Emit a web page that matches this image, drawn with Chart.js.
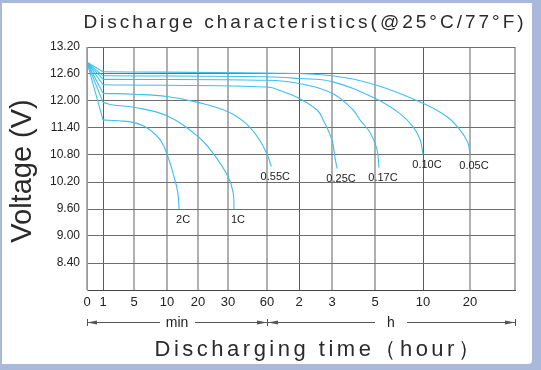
<!DOCTYPE html>
<html>
<head>
<meta charset="utf-8">
<script src="https://cdn.jsdelivr.net/npm/chart.js@4/dist/chart.umd.min.js"></script>
<style>
    body { margin: 0; background: #a9b9dc; width: 541px; height: 370px; overflow: hidden; position: relative; }
    #panel { position: absolute; left: 2px; top: 3px; width: 530px; height: 361px; background: #fff; border-bottom-right-radius: 4px; }
    #chart { position: absolute; left: 0; top: 0; }
</style>
</head>
<body>
<div id="panel"></div>
<canvas id="chart" width="541" height="370"></canvas>
<script>
// X axis: discharge time in minutes, printed grid is not uniform
const X_TICKS = [0, 1, 5, 10, 20, 30, 60, 120, 180, 300, 600, 1200, 2400];
const X_LABELS = ['0', '1', '5', '10', '20', '30', '60', '2', '3', '5', '10', '20', ''];
const X_SPACING = [16, 31, 33, 31, 30, 39, 32, 33, 43, 48, 47, 45]; // relative width of each grid cell

// Y axis (V)
const Y_MIN = 7.8;
const Y_MAX = 13.2;
const Y_STEP = 0.6;

// curves: time (min) / voltage (V)
const RATES = ['0.05C', '0.10C', '0.17C', '0.25C', '0.55C', '1C', '2C'];
const T_005 = [0, 1, 60, 180, 300, 600, 906, 1072, 1174, 1200];
const V_005 = [12.86, 12.65, 12.62, 12.56, 12.36, 11.95, 11.65, 11.36, 11.07, 10.80];
const T_010 = [0, 1, 60, 120, 180, 300, 456, 537, 581, 600];
const V_010 = [12.86, 12.56, 12.54, 12.50, 12.43, 12.06, 11.72, 11.43, 11.15, 10.82];
const T_017 = [0, 1, 60, 120, 180, 239, 258, 286, 312, 325];
const V_017 = [12.86, 12.48, 12.46, 12.39, 12.17, 11.80, 11.58, 11.30, 10.93, 10.52];
const T_025 = [0, 1, 60, 90, 120, 153, 164, 180, 188, 194];
const V_025 = [12.86, 12.36, 12.31, 12.21, 12.06, 11.80, 11.58, 11.13, 10.76, 10.50];
const T_055 = [0, 1, 5, 10, 20, 30, 45, 55, 62, 68];
const V_055 = [12.86, 12.17, 12.15, 12.10, 11.97, 11.76, 11.47, 11.10, 10.76, 10.54];
const T_1C = [0, 1, 2.3, 5, 10, 20, 25, 30, 34, 34.6];
const V_1C = [12.86, 11.97, 11.91, 11.86, 11.67, 11.21, 10.84, 10.32, 9.96, 9.60];
const T_2C = [0, 1, 3, 5, 7, 9, 10.3, 12.3, 13.5, 13.9];
const V_2C = [12.86, 11.58, 11.56, 11.52, 11.40, 11.13, 10.76, 10.31, 9.96, 9.60];

const SERIES = [[T_005, V_005], [T_010, V_010], [T_017, V_017], [T_025, V_025], [T_055, V_055], [T_1C, V_1C], [T_2C, V_2C]];

const FONT = '"Liberation Sans", Arial, sans-serif';
const LINE_COLOR = '#3fbef0';

// Linear scale with a piecewise grid (0,1,5,10 ... min, 2,3,5 ... h)
class TimeGridScale extends Chart.LinearScale {
    static id = 'timegrid';
    static defaults = Chart.LinearScale.defaults;

    buildTicks() {
        return X_TICKS.map(v => ({ value: v }));
    }

    toDecimal(value) {
        const total = X_SPACING.reduce((a, b) => a + b, 0);
        let acc = 0;
        for (let i = 0; i < X_SPACING.length; i++) {
            const a = X_TICKS[i], b = X_TICKS[i + 1];
            if (value <= b || i === X_SPACING.length - 1) {
                return (acc + X_SPACING[i] * (value - a) / (b - a)) / total;
            }
            acc += X_SPACING[i];
        }
        return 1;
    }

    getPixelForValue(value) {
        if (value === null || value === undefined) return NaN;
        return this.getPixelForDecimal(this.toDecimal(value));
    }

    getValueForPixel(pixel) {
        const total = X_SPACING.reduce((a, b) => a + b, 0);
        const d = this.getDecimalForPixel(pixel) * total;
        let acc = 0;
        for (let i = 0; i < X_SPACING.length; i++) {
            if (d <= acc + X_SPACING[i]) {
                return X_TICKS[i] + (X_TICKS[i + 1] - X_TICKS[i]) * (d - acc) / X_SPACING[i];
            }
            acc += X_SPACING[i];
        }
        return X_TICKS[X_TICKS.length - 1];
    }
}
Chart.register(TimeGridScale);

const DARK_X = [1, 120, 600];

// titles, rate labels and the min / h bracket row
const decorPlugin = {
    id: 'decor',
    afterDraw(chart) {
        const ctx = chart.ctx;
        const xs = chart.scales.x;
        ctx.save();

        // rate labels under the end of each curve
        ctx.font = '11px ' + FONT;
        ctx.fillStyle = '#222';
        ctx.textAlign = 'center';
        ctx.textBaseline = 'top';
        chart.data.datasets.forEach((ds, i) => {
            if (!ds.rate) return;
            const pts = chart.getDatasetMeta(i).data;
            const last = pts[pts.length - 1];
            ctx.fillText(ds.rate, last.x + 4, last.y + 5);
        });

        // main title
        ctx.letterSpacing = '3px';
        ctx.font = '19px ' + FONT;
        ctx.fillStyle = '#2a2a2a';
        ctx.textBaseline = 'middle';
        ctx.fillText('Discharge characteristics(@25°C/77°F)', 305, 23);

        // x title
        ctx.letterSpacing = '3.5px';
        ctx.font = '22px ' + FONT;
        ctx.fillText('Discharging time（hour）', 319, 350);

        // y title
        ctx.letterSpacing = '0px';
        ctx.save();
        ctx.translate(23, 171);
        ctx.rotate(-Math.PI / 2);
        ctx.font = '29px ' + FONT;
        ctx.fillText('Voltage (V)', 0, 0);
        ctx.restore();

        // min / h bracket
        const y = 322;
        const p0 = xs.getPixelForValue(0);
        const p60 = xs.getPixelForValue(60);
        const pEnd = xs.getPixelForValue(X_TICKS[X_TICKS.length - 1]);
        ctx.strokeStyle = '#555';
        ctx.fillStyle = '#555';
        ctx.lineWidth = 1;
        const seg = (a, b) => { ctx.beginPath(); ctx.moveTo(a, y + 0.5); ctx.lineTo(b, y + 0.5); ctx.stroke(); };
        const bar = x => { ctx.beginPath(); ctx.moveTo(x + 0.5, y - 3); ctx.lineTo(x + 0.5, y + 4); ctx.stroke(); };
        const arrow = (x, dir) => {
            ctx.beginPath();
            ctx.moveTo(x, y + 0.5);
            ctx.lineTo(x + dir * 10, y - 1.5);
            ctx.lineTo(x + dir * 10, y + 2.5);
            ctx.closePath();
            ctx.fill();
        };
        [p0, p60, pEnd].forEach(bar);
        arrow(p0, 1); arrow(p60, -1); arrow(p60 + 1, 1); arrow(pEnd, -1);
        const midMin = (p0 + p60) / 2, midH = (p60 + pEnd) / 2;
        seg(p0, midMin - 17); seg(midMin + 18, p60);
        seg(p60, midH - 16); seg(midH + 16, pEnd);
        ctx.font = '14px ' + FONT;
        ctx.fillStyle = '#222';
        ctx.textBaseline = 'middle';
        ctx.fillText('min', midMin, y + 1);
        ctx.fillText('h', midH, y + 1);

        ctx.restore();
    }
};

// straight fan from the open-circuit point, then a smooth discharge curve
const datasets = [];
SERIES.forEach(([t, v], i) => {
    const pts = t.map((x, k) => ({ x: x, y: v[k] }));
    datasets.push({
        label: RATES[i] + ' start',
        data: pts.slice(0, 2),
        borderColor: LINE_COLOR,
        borderWidth: 1.1,
        pointRadius: 0,
        tension: 0
    });
    datasets.push({
        label: RATES[i],
        rate: RATES[i],
        data: pts.slice(1),
        borderColor: LINE_COLOR,
        borderWidth: 1.1,
        pointRadius: 0,
        tension: 0.4
    });
});

new Chart(document.getElementById('chart'), {
    type: 'line',
    data: { datasets: datasets },
    options: {
        responsive: false,
        animation: false,
        devicePixelRatio: 1,
        layout: { padding: { top: 47, right: 26, bottom: 0, left: 0 } },
        plugins: {
            legend: { display: false },
            tooltip: { enabled: false },
            title: { display: false }
        },
        scales: {
            x: {
                type: 'timegrid',
                min: 0,
                max: X_TICKS[X_TICKS.length - 1],
                afterFit: scale => { scale.height = 80; },
                border: { display: true, color: '#444', width: 1 },
                grid: {
                    drawTicks: false,
                    color: c => (c.tick && DARK_X.includes(c.tick.value)) ? '#5a5a5a' : '#b0b0b0',
                    lineWidth: c => (c.tick && DARK_X.includes(c.tick.value)) ? 1 : 2
                },
                ticks: {
                    autoSkip: false,
                    maxRotation: 0,
                    padding: 5,
                    color: '#222',
                    font: { family: FONT, size: 13 },
                    callback: (v, i) => X_LABELS[i]
                }
            },
            y: {
                type: 'linear',
                min: Y_MIN,
                max: Y_MAX,
                afterFit: scale => { scale.width = 87; },
                border: { display: true, color: '#999', width: 1 },
                grid: {
                    drawTicks: false,
                    color: '#6e6e6e',
                    lineWidth: 1
                },
                ticks: {
                    stepSize: Y_STEP,
                    padding: 7,
                    color: '#222',
                    font: { family: FONT, size: 12 },
                    callback: v => Math.abs(v - Y_MIN) < 1e-6 ? '' : v.toFixed(2)
                }
            }
        }
    },
    plugins: [decorPlugin]
});
</script>
</body>
</html>
